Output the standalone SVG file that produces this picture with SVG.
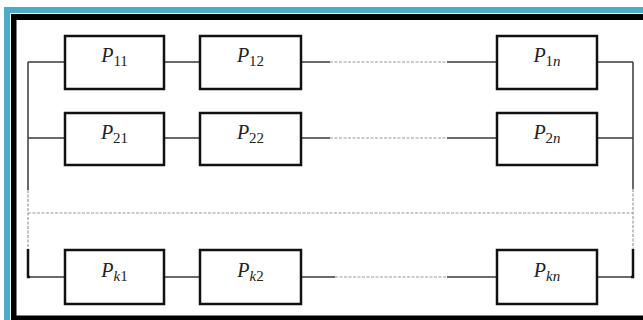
<svg xmlns="http://www.w3.org/2000/svg" width="643" height="320" viewBox="0 0 643 320">
<style>
.box{fill:#fff;stroke:#111;stroke-width:2.5}
.lbl{font-family:"Liberation Serif","Times New Roman",serif;font-size:20px;fill:#222;text-anchor:middle}
.lbl .p{font-style:italic}
.lbl .s{font-size:15px;font-style:normal}
.lbl .i{font-style:italic}
.w{stroke:#3a3a3a;stroke-width:1.5;fill:none}
.d{stroke:#9a9a9a;stroke-width:1.2;stroke-dasharray:3 1.5;fill:none}
.t{stroke:#111;stroke-width:2.5;fill:none}
</style>
<rect width="643" height="320" fill="#fff"/>
<g id="frame">
<rect x="4" y="7" width="639" height="6" fill="#4aacc6"/>
<rect x="4" y="7" width="6" height="313" fill="#4aacc6"/>
<rect x="11" y="14" width="632" height="6" fill="#000"/>
<rect x="11" y="14" width="5.5" height="306" fill="#000"/>
<rect x="11" y="315.5" width="632" height="4.5" fill="#000"/>
</g>
<g id="connectors">
<path class="w" d="M28 62H65M164 62H200M301 62H330M447 62H497M597 62H633"/>
<path class="d" d="M330 62H447"/>
<path class="w" d="M28 138H65M164 138H200M301 138H330M447 138H497M597 138H633"/>
<path class="d" d="M330 138H447"/>
<path class="w" d="M28 277H65M164 277H200M301 277H335M447 277H497M597 277H633"/>
<path class="d" d="M335 277H447"/>
<path class="w" d="M28 62V190M633 62V189"/>
<path class="d" d="M28 190V250M633 189V250M28 213H633"/>
<path class="t" d="M28 249V277H30M633 249V277H631"/>
</g>
<g id="P11"><rect class="box" x="65" y="36" width="99" height="53"/><text class="lbl" x="114.5" y="62"><tspan class="p">P</tspan><tspan class="s" dy="4">11</tspan></text></g>
<g id="P12"><rect class="box" x="200" y="36" width="101" height="53"/><text class="lbl" x="250.5" y="62"><tspan class="p">P</tspan><tspan class="s" dy="4">12</tspan></text></g>
<g id="P1n"><rect class="box" x="497" y="36" width="100" height="53"/><text class="lbl" x="547" y="62"><tspan class="p">P</tspan><tspan class="s" dy="4">1<tspan class="i">n</tspan></tspan></text></g>
<g id="P21"><rect class="box" x="65" y="113" width="99" height="52"/><text class="lbl" x="114.5" y="139"><tspan class="p">P</tspan><tspan class="s" dy="4">21</tspan></text></g>
<g id="P22"><rect class="box" x="200" y="113" width="101" height="52"/><text class="lbl" x="250.5" y="139"><tspan class="p">P</tspan><tspan class="s" dy="4">22</tspan></text></g>
<g id="P2n"><rect class="box" x="497" y="113" width="100" height="52"/><text class="lbl" x="547" y="139"><tspan class="p">P</tspan><tspan class="s" dy="4">2<tspan class="i">n</tspan></tspan></text></g>
<g id="Pk1"><rect class="box" x="65" y="250" width="99" height="54"/><text class="lbl" x="114.5" y="277"><tspan class="p">P</tspan><tspan class="s" dy="4"><tspan class="i">k</tspan>1</tspan></text></g>
<g id="Pk2"><rect class="box" x="200" y="250" width="101" height="54"/><text class="lbl" x="250.5" y="277"><tspan class="p">P</tspan><tspan class="s" dy="4"><tspan class="i">k</tspan>2</tspan></text></g>
<g id="Pkn"><rect class="box" x="497" y="250" width="100" height="54"/><text class="lbl" x="547" y="277"><tspan class="p">P</tspan><tspan class="s i" dy="4">kn</tspan></text></g>
</svg>
